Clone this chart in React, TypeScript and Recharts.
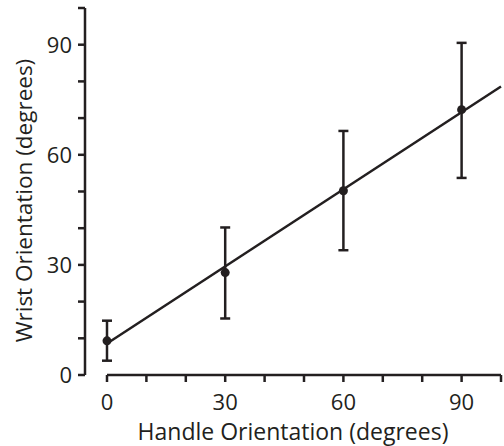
import React from 'react';
import {
  ComposedChart,
  Scatter,
  Line,
  XAxis,
  YAxis,
  ErrorBar,
  ReferenceLine,
  Label,
} from 'recharts';

const handleAngles = [0, 30, 60, 90];
const wristMeans = [9.3, 27.9, 50.2, 72.3];
const errLow = [5.4, 12.5, 16.2, 18.6];
const errHigh = [5.5, 12.3, 16.3, 18.2];

const fitX = [0, 100];
const fitY = [8.6, 78.6];

const xTicks = [0, 10, 20, 30, 40, 50, 60, 70, 80, 90, 100];
const yTicks = [0, 10, 20, 30, 40, 50, 60, 70, 80, 90, 100];
const labeledTicks = [0, 30, 60, 90];

const points = handleAngles.map((x, i) => ({
  x,
  y: wristMeans[i],
  err: [errLow[i], errHigh[i]],
}));
const fitLine = fitX.map((x, i) => ({ x, fit: fitY[i] }));

const INK = '#231f20';
const FONT = '"Open Sans", sans-serif';

const fmt = (v: number) => (labeledTicks.includes(v) ? String(v) : '');

export default function App() {
  return (
    <div style={{ width: 504, height: 446, background: '#fff' }}>
      <style>{'body{margin:0;}'}</style>
      <ComposedChart
        width={504}
        height={446}
        margin={{ top: 8, right: 3, bottom: 0, left: 0 }}
      >
        <XAxis
          type="number"
          dataKey="x"
          domain={[0, 100]}
          ticks={xTicks}
          tickFormatter={fmt}
          padding={{ left: 22, right: 0 }}
          axisLine={false}
          tickLine={{ stroke: INK, strokeWidth: 2.5 }}
          tickSize={7}
          tickMargin={12}
          height={71}
          interval={0}
          tick={{ fill: INK, fontSize: 22, fontFamily: FONT }}
        >
          <Label
            value="Handle Orientation (degrees)"
            position="insideBottom"
            offset={6}
            style={{ fill: INK, fontSize: 23, fontFamily: FONT }}
          />
        </XAxis>
        <YAxis
          type="number"
          domain={[0, 100]}
          ticks={yTicks}
          tickFormatter={fmt}
          width={85}
          axisLine={{ stroke: INK, strokeWidth: 2.5 }}
          tickLine={{ stroke: INK, strokeWidth: 2.5 }}
          tickSize={7}
          tickMargin={6}
          interval={0}
          tick={{ fill: INK, fontSize: 22, fontFamily: FONT }}
          label={{
            content: (props: any) => {
              const vb = props.viewBox || {};
              const cx = 32;
              const cy = (vb.y ?? 8) + (vb.height ?? 367) / 2 + 9;
              return (
                <text
                  x={cx}
                  y={cy}
                  transform={`rotate(-90, ${cx}, ${cy})`}
                  textAnchor="middle"
                  fill={INK}
                  fontSize={22.5}
                  fontFamily={FONT}
                >
                  Wrist Orientation (degrees)
                </text>
              );
            },
          }}
        />
        <ReferenceLine
          segment={[
            { x: 0, y: 0 },
            { x: 100, y: 0 },
          ]}
          stroke={INK}
          strokeWidth={2.5}
          ifOverflow="visible"
        />
        <Line
          data={fitLine}
          dataKey="fit"
          type="linear"
          stroke={INK}
          strokeWidth={2.5}
          dot={false}
          activeDot={false}
          isAnimationActive={false}
        />
        <Scatter
          data={points}
          dataKey="y"
          fill={INK}
          shape={(p: any) => <circle cx={p.cx} cy={p.cy} r={4.5} fill={INK} />}
          isAnimationActive={false}
        >
          <ErrorBar
            dataKey="err"
            direction="y"
            width={5}
            stroke={INK}
            strokeWidth={2.5}
            isAnimationActive={false}
          />
        </Scatter>
      </ComposedChart>
    </div>
  );
}
